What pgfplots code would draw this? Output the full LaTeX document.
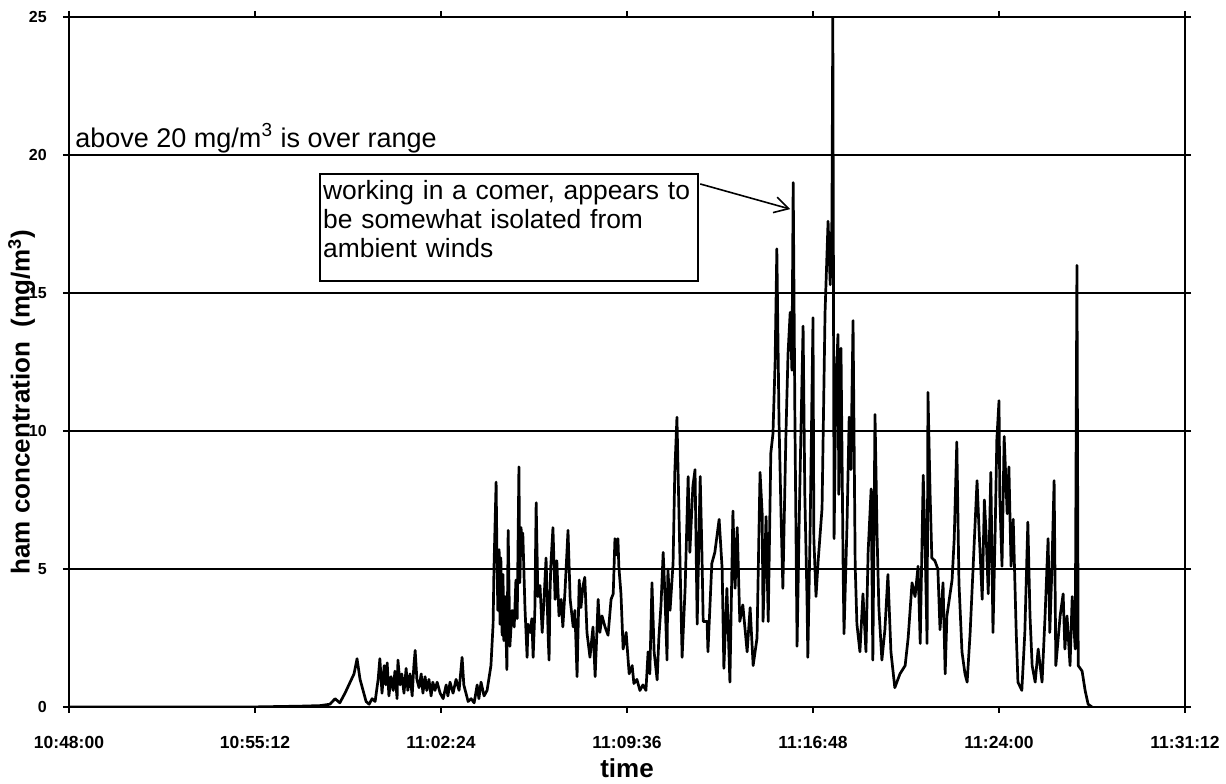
\documentclass[border=0pt]{standalone}
\usepackage{fontspec}
\setmainfont{Liberation Sans}
\usepackage{pgfplots}
\pgfplotsset{compat=1.18}
\usetikzlibrary{arrows.meta}
\begin{document}
\begin{tikzpicture}
\begin{axis}[
  scale only axis, width=558pt, height=345pt,
  xmin=0, xmax=2592, ymin=0, ymax=25,
  xtick={0,432,864,1296,1728,2160,2592},
  xticklabels={10:48:00,10:55:12,11:02:24,11:09:36,11:16:48,11:24:00,11:31:12},
  ytick={0,5,10,15,20,25},
  ymajorgrids, grid style={black, line width=0.75pt},
  axis line style={line width=1pt},
  tick align=outside, major tick length=3pt, tick style={black, line width=0.75pt},
  /pgf/number format/assume math mode=true,
  tick label style={font=\bfseries\fontsize{8.75}{10}\selectfont},
  xticklabel style={yshift=-8pt},
  yticklabel style={xshift=-4.6pt, font=\bfseries\fontsize{8}{9}\selectfont},
  xlabel={time},
  xlabel style={font=\bfseries\fontsize{13}{15}\selectfont, at={(axis description cs:0.5,-0.088)}, anchor=center},
  ylabel={ham concentration\ \ (mg/m\textsuperscript{3})},
  ylabel style={font=\bfseries\fontsize{13}{15}\selectfont, at={(axis description cs:-0.0425,0.442)}, anchor=center},
]
% time in seconds after 10:48:00
\addplot[black, line width=1.35pt, line join=round] coordinates {
(0,0) (420,0) (537,0.03) (583,0.05) (606,0.1) (618,0.3) (629,0.15) (641,0.5)
(653,0.9) (662,1.2) (669,1.75) (676,1.0) (683,0.6) (690,0.2) (697,0.1) (704,0.3)
(711,0.2) (718,1.0) (722,1.75) (727,0.5) (732,1.5) (736,0.8) (739,1.6) (743,0.4)
(748,1.1) (753,0.6) (757,1.3) (762,0.3) (764,1.7) (769,0.8) (773,1.2) (778,0.5)
(783,1.4) (787,0.6) (792,1.2) (797,0.4) (801,1.5) (804,2.05) (808,1.0) (813,0.7)
(818,1.2) (822,0.5) (827,1.1) (831,0.6) (836,1.0) (841,0.4) (845,0.9) (850,0.6)
(855,0.9) (862,0.5) (869,0.3) (876,0.8) (880,0.4) (885,0.9) (892,0.5) (899,1.0)
(906,0.6) (913,1.8) (917,0.8) (922,0.5) (927,0.2) (934,0.3) (941,0.15) (948,0.8)
(952,0.3) (957,0.9) (964,0.4) (971,0.6) (976,1.1) (980,1.5) (985,3.0) (987,5.0)
(992,8.15) (994,5.5) (996,3.5) (999,5.7) (1001,3.0) (1003,5.4) (1006,2.6) (1008,4.8)
(1010,2.4) (1013,4.0) (1017,1.35) (1020,6.4) (1024,2.2) (1029,3.5) (1034,2.9) (1038,4.6)
(1041,3.2) (1045,8.7) (1047,4.5) (1050,6.5) (1052,5.7) (1054,6.3) (1059,3.6) (1064,1.8)
(1066,3.0) (1071,2.7) (1075,3.2) (1078,1.8) (1082,3.5) (1085,7.4) (1089,4.0) (1094,4.4)
(1099,2.7) (1103,3.8) (1108,5.4) (1113,2.5) (1115,1.7) (1117,4.0) (1119,5.1) (1124,6.5)
(1129,3.9) (1133,5.3) (1138,3.3) (1143,3.9) (1147,2.9) (1152,4.2) (1159,6.4) (1164,3.9)
(1171,2.9) (1175,3.5) (1180,1.1) (1185,4.6) (1189,3.6) (1194,4.4) (1198,4.7) (1203,2.7)
(1210,1.8) (1217,2.9) (1222,1.1) (1229,3.9) (1233,2.7) (1238,3.3) (1245,2.9) (1252,2.6)
(1259,3.9) (1264,4.1) (1268,6.1) (1273,5.5) (1275,6.1) (1277,5.1) (1282,4.1) (1287,2.1)
(1294,2.7) (1301,1.2) (1308,1.5) (1312,0.85) (1319,1.0) (1326,0.6) (1333,0.8) (1340,0.6)
(1345,2.0) (1349,1.2) (1354,4.5) (1359,2.0) (1366,0.98) (1370,2.5) (1375,3.7) (1380,5.6)
(1384,4.1) (1389,1.7) (1391,5.0) (1396,3.5) (1403,5.2) (1407,8.5) (1412,10.5) (1417,6.8)
(1424,1.8) (1431,4.3) (1438,8.35) (1442,5.6) (1449,8.0) (1454,8.6) (1459,3.0) (1466,8.35)
(1470,5.6) (1473,3.1) (1482,3.1) (1484,2.0) (1493,5.2) (1500,5.6) (1510,6.8) (1517,5.0)
(1521,1.4) (1528,4.3) (1535,0.9) (1542,7.1) (1547,4.3) (1552,6.5) (1558,3.1) (1565,3.7)
(1575,2.0) (1582,3.6) (1589,1.5) (1598,2.5) (1605,8.5) (1610,7.0) (1612,3.1) (1619,6.9)
(1624,3.1) (1630,9.2) (1635,9.9) (1640,12.5) (1644,16.6) (1649,10.4) (1654,6.8) (1658,4.3)
(1665,9.8) (1670,12.8) (1675,14.3) (1679,12.2) (1682,19.0) (1686,10.4) (1691,2.2) (1696,6.8)
(1700,10.0) (1705,13.8) (1709,7.7) (1714,4.0) (1716,1.8) (1721,6.1) (1728,14.1) (1730,6.1)
(1735,4.0) (1740,5.3) (1749,7.2) (1756,14.3) (1763,17.6) (1768,15.3) (1772,17.7) (1774,25.0)
(1777,6.1) (1781,11.5) (1786,13.5) (1788,7.7) (1793,13.0) (1798,5.0) (1800,2.65) (1807,6.6)
(1812,10.5) (1816,8.6) (1821,14.0) (1826,5.1) (1830,3.0) (1837,2.0) (1844,4.1) (1851,2.0)
(1856,5.6) (1863,7.9) (1867,1.7) (1872,10.6) (1877,6.1) (1881,3.6) (1888,1.7) (1895,2.8)
(1902,4.8) (1909,2.0) (1918,0.7) (1930,1.2) (1942,1.5) (1949,2.5) (1958,4.5) (1965,4.0)
(1972,5.1) (1977,2.3) (1984,8.4) (1988,6.1) (1993,2.3) (1995,11.4) (2000,7.7) (2004,5.4)
(2011,5.3) (2018,5.0) (2023,2.8) (2030,4.5) (2035,1.2) (2039,3.3) (2051,4.6) (2056,6.1)
(2062,9.6) (2067,4.5) (2074,2.0) (2081,1.2) (2086,0.9) (2093,2.7) (2100,5.1) (2109,8.2)
(2114,6.3) (2121,3.9) (2126,7.5) (2130,6.3) (2135,4.1) (2141,8.5) (2146,2.7) (2151,6.3)
(2155,9.7) (2160,11.1) (2162,7.5) (2167,5.1) (2172,9.8) (2179,7.0) (2183,8.7) (2188,5.1)
(2193,6.8) (2200,2.7) (2204,0.9) (2213,0.6) (2220,2.7) (2227,6.7) (2232,3.3) (2237,1.5)
(2244,0.9) (2251,2.1) (2260,0.9) (2267,3.3) (2274,6.1) (2278,2.7) (2283,5.1) (2288,8.2)
(2292,1.5) (2302,3.3) (2309,4.1) (2313,2.1) (2318,3.3) (2325,1.5) (2330,4.0) (2337,2.1)
(2341,16.0) (2344,1.5) (2353,1.3) (2360,0.6) (2367,0.1) (2376,0.0)
};
\node[anchor=base west, inner sep=0pt, font=\fontsize{13.5}{16}\selectfont]
  at (axis cs:14,20.28) {above 20 mg/m\textsuperscript{3} is over range};
\node[draw, line width=1pt, anchor=north west, align=left, text width=186pt,
  inner xsep=1.5pt, inner ysep=3pt, font=\fontsize{13.2}{14.5}\selectfont]
  at (axis cs:581,19.35) {working in a comer, appears to\\be somewhat isolated from\\ambient winds\rule[-9pt]{0pt}{9pt}};
\draw[line width=0.8pt, -{Straight Barb[length=7pt,width=8pt]}]
  (axis cs:1466,18.95) -- (axis cs:1675,18.04);
\end{axis}
\pgfresetboundingbox
\path[use as bounding box] ([xshift=-34.5pt,yshift=-38.5pt]current axis.south west)
  rectangle ([xshift=20.5pt,yshift=8.5pt]current axis.north east);
\end{tikzpicture}
\end{document}
